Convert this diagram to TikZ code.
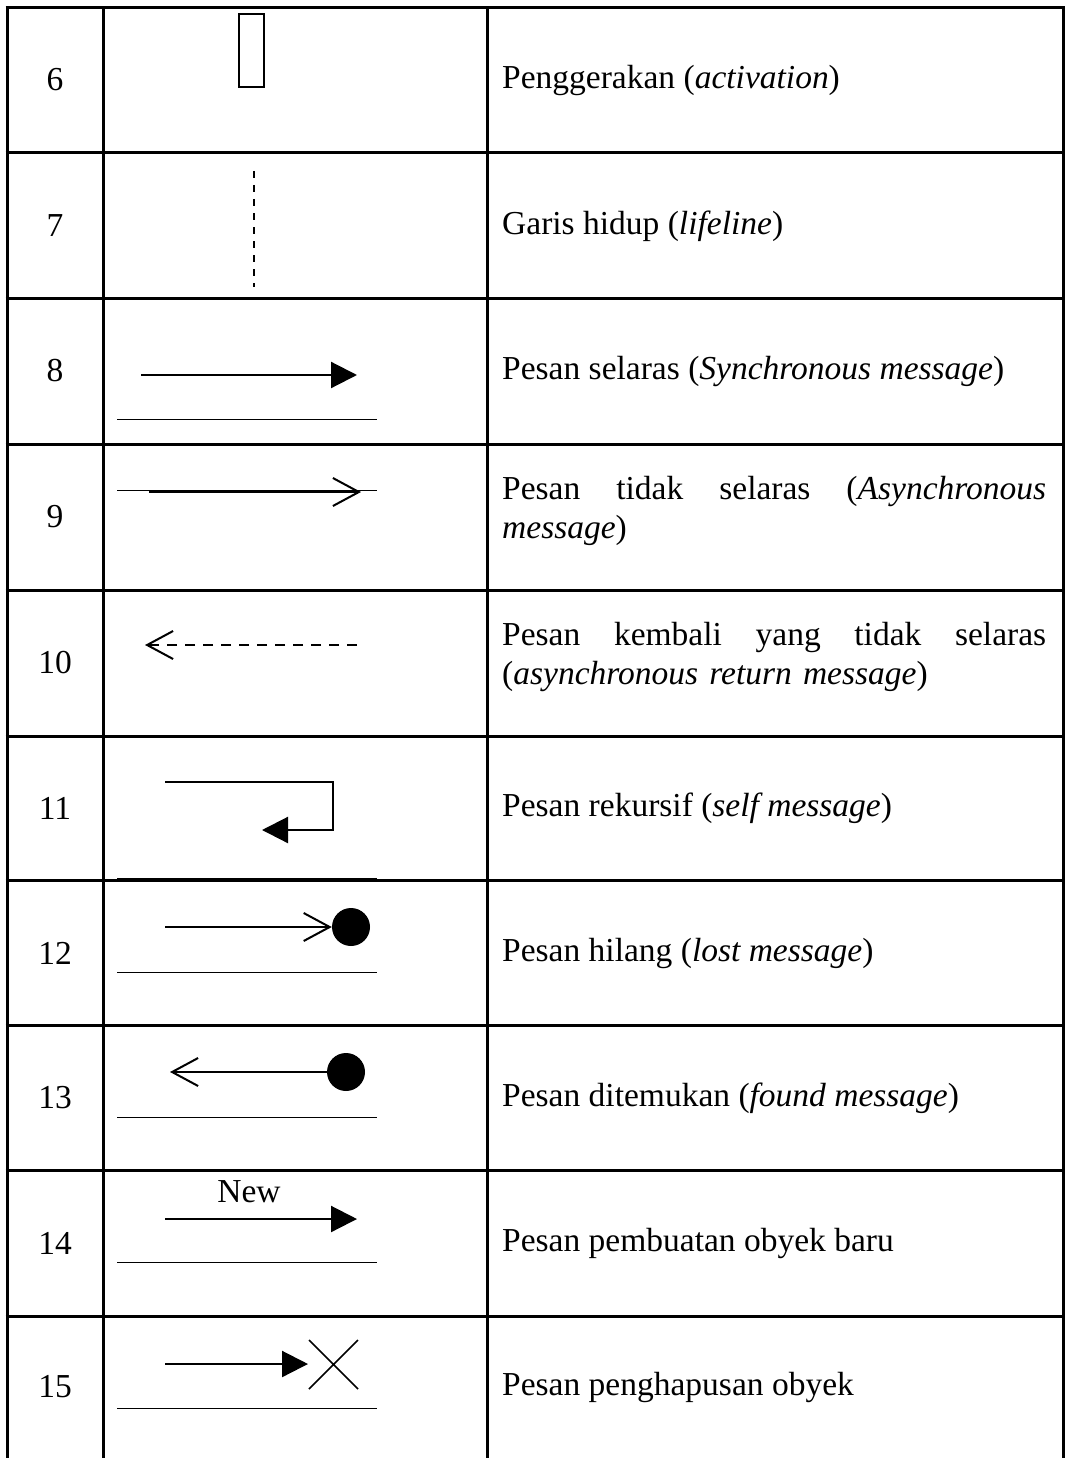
\documentclass[tikz,border=0pt]{standalone}
\usepackage{fontspec}
\setmainfont{Liberation Serif}
\usetikzlibrary{arrows.meta}
\begin{document}
\begin{tikzpicture}[x=1pt,y=-1pt,
  font=\fontsize{33.5}{39}\selectfont,
  gridline/.style={line width=3pt},
  baseline/.style={line width=1pt},
  msgline/.style={line width=2.2pt},
  syncarrow/.style={msgline,-{Triangle[length=26pt,width=26pt]}},
  openarrow/.style={msgline,-{Straight Barb[length=26pt,width=28pt,line width=2pt]}},
  num/.style={inner sep=0pt,anchor=center},
  desc/.style={inner sep=0pt,anchor=west},
  desc2/.style={inner sep=0pt,anchor=west,text width=544pt,align=left},
  dot/.style={circle,fill=black,minimum size=38pt,inner sep=0pt}
]
\useasboundingbox (0,0) rectangle (1065,1458);
\fill[white] (0,0) rectangle (1065,1458);

% table grid
\foreach \x in {7,103,487,1063} \draw[gridline] (\x,7.5) -- (\x,1458);
\foreach \y in {7.5,153,298,444,590,736,880,1025,1170,1316} \draw[gridline] (5.5,\y) -- (1064.5,\y);

% numbers
\node[num] (n6) at (55,80) {6};
\node[num] (n7) at (55,226) {7};
\node[num] (n8) at (55,371) {8};
\node[num] (n9) at (55,517) {9};
\node[num] (n10) at (55,663) {10};
\node[num] (n11) at (55,808) {11};
\node[num] (n12) at (55,953) {12};
\node[num] (n13) at (55,1098) {13};
\node[num] (n14) at (55,1243) {14};
\node[num] (n15) at (55,1387) {15};

% descriptions
\node[desc] (d6) at (502,80) {Penggerakan (\textit{activation})};
\node[desc] (d7) at (502,226) {Garis hidup (\textit{lifeline})};
\node[desc] (d8) at (502,371) {Pesan selaras (\textit{Synchronous message})};
\node[desc2] (d9) at (502,511) {Pesan\hfill tidak\hfill selaras\hfill (\textit{Asynchronous}\\\mbox{\textit{message})}};
\node[desc2] (d10) at (502,657) {Pesan\hfill kembali\hfill yang\hfill tidak\hfill selaras\\\mbox{(\textit{asynchronous return message})}};
\node[desc] (d11) at (502,808) {Pesan rekursif (\textit{self message})};
\node[desc] (d12) at (502,953) {Pesan hilang (\textit{lost message})};
\node[desc] (d13) at (502,1098) {Pesan ditemukan (\textit{found message})};
\node[desc] (d14) at (502,1243) {Pesan pembuatan obyek baru};
\node[desc] (d15) at (502,1387) {Pesan penghapusan obyek};

% 6 activation
\draw[line width=1.6pt] (239,14) rectangle (264,87);

% 7 lifeline
\coordinate (l7a) at (254,171);
\coordinate (l7b) at (254,287);
\draw[line width=2pt,dash pattern=on 7pt off 7pt] (l7a) -- (l7b);

% 8 synchronous
\coordinate (s8a) at (141,375);
\coordinate (s8b) at (357,375);
\draw[syncarrow] (s8a) -- (s8b);
\coordinate (u8a) at (117,419);
\coordinate (u8b) at (377,419);
\draw[baseline] (u8a) -- (u8b);

% 9 asynchronous
\coordinate (u9a) at (117,490);
\coordinate (u9b) at (377,490);
\draw[baseline] (u9a) -- (u9b);
\coordinate (s9a) at (149,492);
\coordinate (s9b) at (361,492);
\draw[openarrow,line width=2.8pt] (s9a) -- (s9b);

% 10 asynchronous return
\coordinate (s10a) at (357,645);
\coordinate (s10b) at (145,645);
\draw[openarrow,dash pattern=on 10pt off 8pt] (s10a) -- (s10b);

% 11 self message
\coordinate (s11a) at (165,782);
\coordinate (s11b) at (333,782);
\coordinate (s11c) at (333,830);
\coordinate (s11d) at (262,830);
\draw[syncarrow] (s11a) -- (s11b) -- (s11c) -- (s11d);
\coordinate (u11a) at (117,878);
\coordinate (u11b) at (377,878);
\draw[baseline] (u11a) -- (u11b);

% 12 lost message
\node[dot] (c12) at (351,927) {};
\coordinate (s12a) at (165,927);
\draw[openarrow] (s12a) -- (c12.west);
\coordinate (u12a) at (117,972);
\coordinate (u12b) at (377,972);
\draw[baseline] (u12a) -- (u12b);

% 13 found message
\node[dot] (c13) at (346,1072) {};
\coordinate (s13b) at (170,1072);
\draw[openarrow] (c13.west) -- (s13b);
\coordinate (u13a) at (117,1117);
\coordinate (u13b) at (377,1117);
\draw[baseline] (u13a) -- (u13b);

% 14 create
\node[inner sep=0pt] (new14) at (249,1192) {New};
\coordinate (s14a) at (165,1219);
\coordinate (s14b) at (357,1219);
\draw[syncarrow] (s14a) -- (s14b);
\coordinate (u14a) at (117,1262);
\coordinate (u14b) at (377,1262);
\draw[baseline] (u14a) -- (u14b);

% 15 destroy
\coordinate (s15a) at (165,1364);
\coordinate (s15b) at (308,1364);
\draw[syncarrow] (s15a) -- (s15b);
\coordinate (x15a) at (309,1340);
\coordinate (x15b) at (358,1389);
\coordinate (x15c) at (309,1389);
\coordinate (x15d) at (358,1340);
\draw[line width=1.6pt] (x15a) -- (x15b) (x15c) -- (x15d);
\coordinate (u15a) at (117,1408);
\coordinate (u15b) at (377,1408);
\draw[baseline] (u15a) -- (u15b);
\end{tikzpicture}
\end{document}
